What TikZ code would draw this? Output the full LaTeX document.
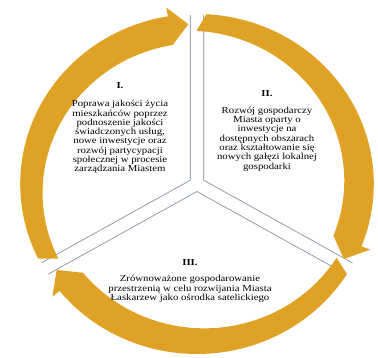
\documentclass[tikz,border=0pt]{standalone}
\usepackage{fontspec}
\setmainfont{Liberation Serif}[FakeStretch=1.17]
\definecolor{arrowgold}{RGB}{224,162,36}
\definecolor{edgegray}{RGB}{118,134,150}
\newcommand{\cyclearrow}[3]{%
  \fill[arrowgold] (#1:170) arc[start angle=#1, end angle=#2, radius=170]
    -- (#2:179) -- (#3:160) -- (#2:141)
    arc[start angle=#2, end angle=#1, radius=150] -- cycle;}
\begin{document}
\begin{tikzpicture}[x=1pt,y=1pt,
    blockhead/.style={font=\fontsize{9.2}{9.3}\selectfont\bfseries, inner sep=0pt},
    blocktext/.style={align=center, font=\fontsize{9.2}{9.3}\selectfont, inner sep=0pt}]
    \useasboundingbox (0,0) rectangle (378,-358);
    \begin{scope}[shift={(197,-184)}, xscale=1.04]
    \foreach \c/\a/\b in {150/90/210, 30/90/-30, 270/210/330}
    {
    \draw[edgegray, line width=0.6pt, shift={(\c:7.5)}] (\a:165) -- (0,0) -- (\b:165);
    }
    \cyclearrow{206}{99.5}{93}
    \cyclearrow{87}{-21.5}{-28}
    \cyclearrow{-32}{-141}{-147.5}
    \end{scope}
    \node[blockhead] (h1) at (120,-86) {I.};
    \node[blocktext] (t1) at (120,-137) {Poprawa jakości życia\\mieszkańców poprzez\\podnoszenie jakości\\świadczonych usług,\\nowe inwestycje oraz\\rozwój partycypacji\\społecznej w procesie\\zarządzania Miastem};
    \node[blockhead] (h2) at (267,-94) {II.};
    \node[blocktext] (t2) at (267,-139) {Rozwój gospodarczy\\Miasta oparty o\\inwestycje na\\dostępnych obszarach\\oraz kształtowanie się\\nowych gałęzi lokalnej\\gospodarki};
    \node[blockhead] (h3) at (190,-263) {III.};
    \node[blocktext] (t3) at (190,-289) {Zrównoważone gospodarowanie\\przestrzenią w celu rozwijania Miasta\\Łaskarzew jako ośrodka satelickiego};
\end{tikzpicture}
\end{document}
